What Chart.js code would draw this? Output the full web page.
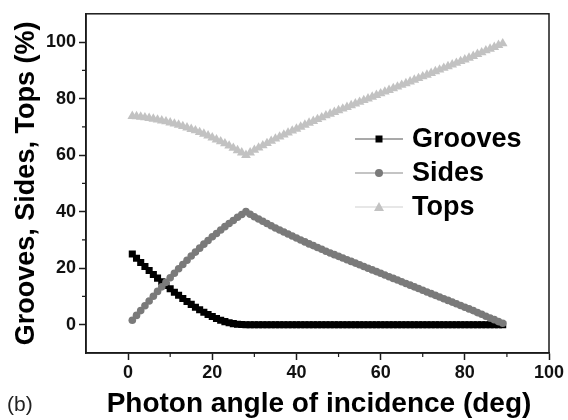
<!DOCTYPE html>
<html>
<head>
<meta charset="utf-8">
<script src="https://cdn.jsdelivr.net/npm/chart.js@4/dist/chart.umd.min.js"></script>
<style>
  html, body { margin: 0; padding: 0; background: #fff; }
  #wrap { width: 568px; height: 420px; }
</style>
</head>
<body>
<div id="wrap"><canvas id="grafico" width="568" height="420"></canvas></div>
<script>
const angles = [
  1, 2, 3, 4, 5, 6, 7, 8, 9, 10,
  11, 12, 13, 14, 15, 16, 17, 18, 19, 20,
  21, 22, 23, 24, 25, 26, 27, 28, 29, 30,
  31, 32, 33, 34, 35, 36, 37, 38, 39, 40,
  41, 42, 43, 44, 45, 46, 47, 48, 49, 50,
  51, 52, 53, 54, 55, 56, 57, 58, 59, 60,
  61, 62, 63, 64, 65, 66, 67, 68, 69, 70,
  71, 72, 73, 74, 75, 76, 77, 78, 79, 80,
  81, 82, 83, 84, 85, 86, 87, 88, 89
];
const grooves = [
  25.0, 23.5, 22.0, 20.6, 19.2, 17.8, 16.5, 15.2, 13.9, 12.7,
  11.5, 10.4, 9.3, 8.2, 7.2, 6.2, 5.3, 4.4, 3.6, 2.9,
  2.2, 1.6, 1.1, 0.7, 0.4, 0.2, 0.1, 0, 0, 0,
  0, 0, 0, 0, 0, 0, 0, 0, 0, 0,
  0, 0, 0, 0, 0, 0, 0, 0, 0, 0,
  0, 0, 0, 0, 0, 0, 0, 0, 0, 0,
  0, 0, 0, 0, 0, 0, 0, 0, 0, 0,
  0, 0, 0, 0, 0, 0, 0, 0, 0, 0,
  0, 0, 0, 0, 0, 0, 0, 0, 0
];
const sides = [
  1.6, 3.3, 5.0, 6.7, 8.4, 10.1, 11.8, 13.4, 15.0, 16.6,
  18.2, 19.8, 21.3, 22.8, 24.3, 25.7, 27.1, 28.5, 29.8, 31.1,
  32.3, 33.5, 34.7, 35.8, 36.9, 38.0, 39.0, 40.0, 39.1, 38.2,
  37.4, 36.6, 35.8, 35.0, 34.2, 33.5, 32.8, 32.1, 31.4, 30.7,
  30.0, 29.3, 28.6, 28.0, 27.3, 26.7, 26.0, 25.4, 24.8, 24.2,
  23.6, 23.0, 22.4, 21.8, 21.2, 20.6, 20.0, 19.4, 18.8, 18.2,
  17.6, 17.0, 16.4, 15.8, 15.2, 14.6, 14.0, 13.4, 12.8, 12.2,
  11.6, 11.0, 10.4, 9.8, 9.2, 8.6, 8.0, 7.4, 6.8, 6.2,
  5.6, 5.0, 4.3, 3.7, 3.0, 2.4, 1.8, 1.1, 0.5
];
const tops = [
  73.8, 73.7, 73.5, 73.3, 73.1, 72.8, 72.5, 72.2, 71.9, 71.5,
  71.1, 70.7, 70.2, 69.7, 69.2, 68.7, 68.1, 67.5, 66.9, 66.2,
  65.5, 64.8, 64.1, 63.3, 62.5, 61.7, 60.9, 60.0, 60.9, 61.8,
  62.6, 63.4, 64.2, 65.0, 65.8, 66.5, 67.2, 67.9, 68.6, 69.3,
  70.0, 70.7, 71.4, 72.0, 72.7, 73.3, 74.0, 74.6, 75.2, 75.8,
  76.4, 77.0, 77.6, 78.2, 78.8, 79.4, 80.0, 80.6, 81.2, 81.8,
  82.4, 83.0, 83.6, 84.2, 84.8, 85.4, 86.0, 86.6, 87.2, 87.8,
  88.4, 89.0, 89.6, 90.2, 90.8, 91.4, 92.0, 92.6, 93.2, 93.8,
  94.4, 95.0, 95.7, 96.3, 97.0, 97.6, 98.2, 98.9, 99.5
];
const xTicks = [0, 20, 40, 60, 80, 100];
const yTicks = [0, 20, 40, 60, 80, 100];
const xMinor = [10, 30, 50, 70, 90];
const yMinor = [10, 30, 50, 70, 90];

const seriesNames = ["Grooves", "Sides", "Tops"];
const seriesColors = ["#000000", "#7a7a7a", "#c2c2c2"];
const legendLine = ["#555555", "#8a8a8a", "#cfcfcf"];
const seriesStyles = ["rect", "circle", "triangle"];
const xTitle = "Photon angle of incidence (deg)";

const AXIS = "#1a1a1a";
const FONT = "'Liberation Sans', Arial, sans-serif";

const toPoints = (vals) => vals.map((v, i) => ({ x: angles[i], y: v }));

// frame, minor ticks, legend, x title and panel label
const extras = {
    id: "extras",
    afterDraw(chart) {
        const ctx = chart.ctx;
        const a = chart.chartArea;
        const xs = chart.scales.x;
        const ys = chart.scales.y;
        ctx.save();
        ctx.strokeStyle = AXIS;
        ctx.lineWidth = 1.5;
        ctx.strokeRect(a.left, a.top, a.right - a.left, a.bottom - a.top);

        ctx.lineWidth = 1.2;
        ctx.beginPath();
        xMinor.forEach((v) => {
            const px = xs.getPixelForValue(v);
            ctx.moveTo(px, a.bottom);
            ctx.lineTo(px, a.bottom + 4);
        });
        yMinor.forEach((v) => {
            const py = ys.getPixelForValue(v);
            ctx.moveTo(a.left, py);
            ctx.lineTo(a.left - 4, py);
        });
        ctx.stroke();

        // legend
        const lx = 355, tx = 412;
        const rows = [139, 173, 207];
        ctx.font = "bold 27px " + FONT;
        ctx.textBaseline = "middle";
        ctx.textAlign = "left";
        seriesNames.forEach((name, i) => {
            const y = rows[i];
            ctx.strokeStyle = legendLine[i];
            ctx.lineWidth = 1.2;
            ctx.beginPath();
            ctx.moveTo(lx, y);
            ctx.lineTo(lx + 48, y);
            ctx.stroke();
            ctx.fillStyle = seriesColors[i];
            const cx = lx + 24;
            ctx.beginPath();
            if (seriesStyles[i] === "rect") {
                ctx.rect(cx - 3.5, y - 3.5, 7, 7);
            } else if (seriesStyles[i] === "circle") {
                ctx.arc(cx, y, 4, 0, Math.PI * 2);
            } else {
                ctx.moveTo(cx, y - 5);
                ctx.lineTo(cx + 5, y + 4);
                ctx.lineTo(cx - 5, y + 4);
                ctx.closePath();
            }
            ctx.fill();
            ctx.fillStyle = "#000";
            ctx.fillText(name, tx, y + 1);
        });

        ctx.font = "bold 28px " + FONT;
        ctx.textAlign = "center";
        ctx.fillText(xTitle, 319, 404);

        ctx.textAlign = "left";
        ctx.font = "21px " + FONT;
        ctx.fillStyle = "#222";
        ctx.fillText("(b)", 7, 405);
        ctx.restore();
    },
};

function generateChart() {
    const info = {
        datasets: [
            {
                label: seriesNames[0],
                data: toPoints(grooves),
                borderColor: seriesColors[0],
                backgroundColor: seriesColors[0],
                borderWidth: 1.5,
                pointStyle: "rect",
                pointRadius: 5,
                pointBorderWidth: 0,
                order: 1,
            },
            {
                label: seriesNames[1],
                data: toPoints(sides),
                borderColor: seriesColors[1],
                backgroundColor: seriesColors[1],
                borderWidth: 1.5,
                pointStyle: "circle",
                pointRadius: 3.8,
                pointBorderWidth: 0,
                order: 0,
            },
            {
                label: seriesNames[2],
                data: toPoints(tops),
                borderColor: seriesColors[2],
                backgroundColor: seriesColors[2],
                borderWidth: 1.5,
                pointStyle: "triangle",
                pointRadius: 5.6,
                pointBorderWidth: 0,
                order: 2,
            },
        ],
    };
    const tickFont = { family: FONT, size: 18, weight: "bold" };
    const titleFont = { family: FONT, size: 27, weight: "bold" };
    const options = {
        responsive: false,
        animation: false,
        layout: { padding: { top: 12, right: 19, left: 0, bottom: 0 } },
        scales: {
            x: {
                type: "linear",
                min: -10,
                max: 100,
                afterBuildTicks: (s) => { s.ticks = xTicks.map((v) => ({ value: v })); },
                afterFit: (s) => { s.height = 67; },
                ticks: { font: tickFont, color: "#111", padding: 2, maxRotation: 0 },
                grid: { drawOnChartArea: false, tickLength: 7, tickColor: AXIS, tickWidth: 1.5 },
                border: { color: AXIS, width: 1.5 },
            },
            y: {
                min: -10,
                max: 110,
                afterBuildTicks: (s) => { s.ticks = yTicks.map((v) => ({ value: v })); },
                afterFit: (s) => { s.width = 86; },
                ticks: { font: tickFont, color: "#111", padding: 3 },
                grid: { drawOnChartArea: false, tickLength: 7, tickColor: AXIS, tickWidth: 1.5 },
                border: { color: AXIS, width: 1.5 },
                title: { display: true, text: "Grooves, Sides, Tops (%)", font: titleFont, color: "#000", padding: { top: 10, bottom: 0 } },
            },
        },
        plugins: {
            legend: { display: false },
            tooltip: { enabled: false },
        },
    };
    const config = {
        type: "line",
        data: info,
        options,
        plugins: [extras],
    };
    const meuGrafico = new Chart(document.getElementById("grafico"), config);
}
generateChart();
</script>
</body>
</html>
